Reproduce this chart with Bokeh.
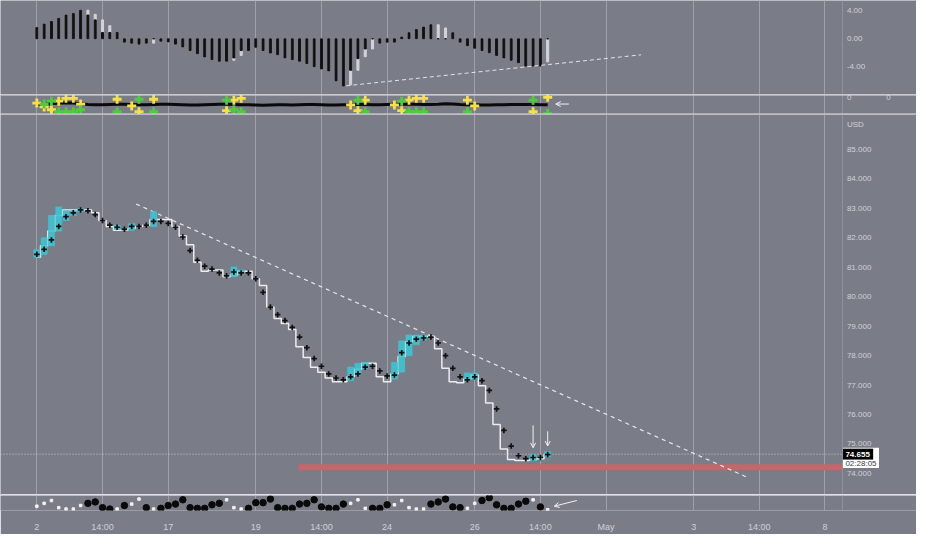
import numpy as np
from bokeh.plotting import figure
from bokeh.layouts import column
from bokeh.models import Range1d, FixedTicker, Span, Arrow, OpenHead
from bokeh.core.properties import value
from bokeh.embed import file_html
from bokeh.resources import INLINE

# ---------------- data ----------------
bar_idx = list(range(71))
tick_idx = [0, 9, 18, 30, 39, 48, 60, 69, 78, 90, 99, 108]
tick_labels = ["2", "14:00", "17", "19", "14:00", "24", "26", "14:00", "May", "3", "14:00", "8"]

macd_ticks = [4, 0, -4]
macd_full = [1.59, 2.10, 2.46, 2.92, 3.38, 3.61, 4.07, 4.07, 3.48, 2.69,
             1.86, 0.90, -0.48, -0.62, -0.76, -0.62, -0.62, -0.34, -0.44, -0.76,
             -1.17, -1.68, -2.14, -2.59, -2.97, -3.20, -3.20, -3.06, -2.37, -1.68,
             -1.21, -1.68, -2.04, -2.28, -2.73, -2.97, -3.20, -3.52, -3.97, -4.30,
             -4.58, -6.00, -6.73, -6.55, -4.48, -2.55, -1.45, -0.62, -0.48, -0.48,
             0.25, 0.86, 1.31, 1.68, 2.00, 2.00, 1.54, 0.86, -0.48, -0.99,
             -1.35, -1.68, -2.00, -2.37, -2.73, -3.06, -3.42, -3.89, -3.89, -3.89,
             -3.28]
macd_dark = [1.59, 2.10, 2.46, 2.92, 3.38, 3.61, 4.07, 3.38, 2.69, 0.90,
             0.90, 0.90, -0.48, -0.62, -0.76, -0.62, 0.0, -0.34, -0.44, -0.76,
             -1.17, -1.68, -2.14, -2.59, -2.97, -3.20, -3.20, -2.73, -1.68, -1.68,
             -1.21, -1.68, -2.04, -2.28, -2.73, -2.97, -3.20, -3.52, -3.97, -4.30,
             -4.58, -6.00, -6.73, -4.48, -2.83, -1.45, 0.0, -0.62, -0.48, -0.48,
             0.25, 0.86, 1.31, 1.68, 2.00, 0.0, 0.0, 0.86, -0.48, -0.99,
             -1.35, -1.68, -2.00, -2.37, -2.73, -3.06, -3.42, -3.89, -3.89, -3.89,
             0.0]
macd_trend_x = [42.4, 82.8]
macd_trend_y = [-6.69, -2.28]

sig_line = [0.1, 0.1, 0.2, 0.3, 0.35, 0.3, 0.2, 0.05, 0.0, 0.0,
            0.05, 0.1, 0.1, 0.05, 0.0, 0.0, 0.05, 0.1, 0.1, 0.05,
            0.0, -0.05, -0.05, 0.0, 0.05, 0.1, 0.1, 0.05, 0.0, 0.0,
            -0.05, -0.1, -0.05, 0.0, 0.0, -0.05, 0.0, 0.05, 0.05, 0.0,
            -0.05, -0.05, 0.0, 0.0, 0.05, 0.05, 0.0, 0.0, 0.05, 0.1,
            0.1, 0.1, 0.1, 0.05, 0.05, 0.1, 0.2, 0.15, 0.05, 0.0,
            0.0, -0.05, -0.05, 0.0, 0.0, 0.05, 0.05, 0.05, 0.05, 0.0,
            0.0]
sig_ticks = [1.3]
sig_tick_labels = ["0"]
yellow_x = [0, 1, 2, 3, 4, 5, 6, 11, 13, 14, 16, 26, 27, 28, 43, 44, 45, 49, 50, 51, 52, 53, 59, 60, 68, 70]
yellow_y = [0.3, -0.37, -0.87, 0.63, 1.13, 1.13, 0.13, 0.97, -0.2, -1.2, 0.97, -1.03, 0.8, 1.13,
            -0.03, -1.03, 0.8, -0.03, -1.03, 0.8, 1.13, 1.13, 0.8, -0.2, -1.2, 1.3]
green_x = [1, 2, 3, 4, 5, 6, 11, 14, 16, 26, 27, 28, 44, 45, 50, 51, 52, 53, 59, 68, 70]
green_y = [0.13, 0.63, -1.2, -1.2, -1.2, -0.87, -1.2, 0.97, -1.2, 0.8, -0.87, -1.2, 0.8, -1.2,
           0.63, -1.2, -1.2, -1.2, -1.2, 0.8, -1.53]

price_ticks = [85, 84, 83, 82, 81, 80, 79, 78, 77, 76, 75, 74]
usd_tick = 85.86
plus_val = [81.44, 81.61, 81.93, 82.39, 82.72, 82.85, 82.95, 82.92, 82.79, 82.59,
            82.43, 82.36, 82.29, 82.39, 82.39, 82.43, 82.56, 82.56, 82.49, 82.36,
            82.03, 81.57, 81.24, 81.04, 80.94, 80.81, 80.71, 80.84, 80.81, 80.81,
            80.61, 80.15, 79.65, 79.39, 79.19, 78.96, 78.63, 78.27, 77.90, 77.64,
            77.38, 77.24, 77.18, 77.28, 77.38, 77.61, 77.64, 77.48, 77.31, 77.34,
            78.10, 78.43, 78.56, 78.60, 78.63, 78.43, 78.00, 77.57, 77.28, 77.18,
            77.28, 77.15, 76.82, 76.19, 75.46, 74.93, 74.60, 74.50, 74.54, 74.54,
            74.64]
step_val = [81.34, 81.73, 82.23, 82.76, 82.95, 82.95, 82.95, 82.95, 82.85, 82.59,
            82.39, 82.26, 82.26, 82.33, 82.39, 82.43, 82.62, 82.62, 82.62, 82.39,
            82.06, 81.77, 81.17, 80.87, 80.91, 80.91, 80.68, 80.74, 80.87, 80.87,
            80.61, 80.38, 79.65, 79.26, 79.09, 78.89, 78.30, 77.94, 77.61, 77.44,
            77.24, 77.11, 77.11, 77.28, 77.54, 77.74, 77.74, 77.28, 77.11, 77.38,
            77.97, 78.47, 78.66, 78.66, 78.66, 78.23, 77.57, 77.11, 77.08, 77.21,
            77.34, 76.98, 76.39, 75.66, 74.83, 74.47, 74.44, 74.44, 74.47, 74.50,
            74.64]
box_idx = [0, 1, 2, 3, 4, 5, 6, 11, 13, 16, 27, 28, 43, 44, 45, 49, 50, 51, 52, 53, 59, 60, 68, 70]
box_top = [81.60, 82.00, 82.76, 83.05, 82.92, 82.92, 82.99, 82.43, 82.49, 82.89, 81.01, 80.91,
           77.61, 77.74, 77.77, 77.77, 78.50, 78.70, 78.70, 78.70, 77.41, 77.41, 74.64, 74.74]
box_bot = [81.34, 81.44, 81.73, 82.23, 82.59, 82.76, 82.89, 82.29, 82.26, 82.39, 80.68, 80.78,
           77.15, 77.34, 77.57, 77.21, 77.44, 78.00, 78.37, 78.53, 77.15, 77.21, 74.44, 74.57]
price_trend_x = [13.6, 97.6]
price_trend_y = [83.15, 73.84]
support_from = 35.9
support_lo = 74.11
support_hi = 74.31
last_price = 74.655
countdown = "02:28:05"
arrow1 = (68, 75.63, 74.87)
arrow2 = (70, 75.43, 74.93)

osc_val = [5, 9, 13, 3, 1, 1, 6, 9, 11, 3,
           1, 1, 6, 8, 15, 3, 1, 2, 6, 8,
           14, 3, 2, 2, 7, 9, 14, 3, 1, 2,
           10, 10, 15, 3, 2, 2, 8, 9, 14, 4,
           2, 2, 8, 9, 14, 2, 2, 2, 7, 7,
           13, 3, 1, 1, 8, 11, 15, 4, 3, 2,
           9, 13, 17, 7, 2, 2, 8, 12, 14, 4,
           0]
osc_dark = [0, 0, 0, 0, 0, 0, 0, 1, 1, 1,
            1, 0, 1, 0, 0, 1, 0, 1, 1, 1,
            1, 1, 1, 1, 1, 1, 0, 0, 0, 1,
            1, 1, 1, 1, 1, 1, 1, 1, 1, 1,
            1, 1, 1, 0, 0, 0, 1, 1, 1, 0,
            0, 0, 0, 0, 1, 1, 1, 1, 1, 0,
            0, 1, 1, 1, 1, 1, 1, 1, 0, 1,
            0]

# ---------------- style / scale ----------------
BG = "#7a7d88"
GRID = "#9ea1aa"
SEP = "#dfe0e4"
TXT = "#cfd1d7"
LIGHT = "#d2d3d8"
CYAN = "#3fc3d0"
FONT = "Liberation Sans"
W = 916
X0, X1 = -4.98, 120.54      # shared bar-index range (whole width)
AX = 110.4                  # price-scale edge (bar-index units)
LAB_X = 111.0               # where the scale labels start
xr = Range1d(X0, X1)


def make_fig(h, yr, bottom=0, xaxis=False):
    p = figure(width=W, height=h, x_range=xr, y_range=yr, output_backend="svg",
               toolbar_location=None, min_border_left=0, min_border_right=0,
               min_border_top=0, min_border_bottom=bottom,
               background_fill_color=BG, border_fill_color=BG, outline_line_color=None,
               x_axis_location="below" if xaxis else None, y_axis_location=None)
    p.xgrid.ticker = FixedTicker(ticks=tick_idx)
    p.xgrid.grid_line_color = GRID
    p.ygrid.grid_line_color = None
    p.add_layout(Span(location=AX, dimension="height", line_color="#8f929c", line_width=1))
    return p


def scale_text(p, ys, texts, x=LAB_X, size="8px", color=TXT):
    p.text(x=[x] * len(ys), y=ys, text=texts, text_font=value(FONT), text_font_size=size,
           text_color=color, text_baseline="middle", text_align="left")


# ---- top pane (histogram) ----
p1 = make_fig(94, Range1d(-7.93, 5.45))
scale_text(p1, macd_ticks, [f"{v:.2f}" for v in macd_ticks])
p1.vbar(x=bar_idx, top=macd_full, bottom=0, width=0.28, color=LIGHT)
p1.vbar(x=bar_idx, top=macd_dark, bottom=0, width=0.28, color="#111111")
p1.line(macd_trend_x, macd_trend_y, line_dash="4 3", line_color="#e4e5e9", line_width=1)

# ---- pane 2 (crosses) ----
p2 = make_fig(20, Range1d(-1.7, 1.8))
scale_text(p2, sig_ticks, sig_tick_labels)
scale_text(p2, sig_ticks, sig_tick_labels, x=116.4)
p2.add_layout(Span(location=1.74, dimension="width", line_color=SEP, line_width=1.2))
p2.add_layout(Span(location=-1.64, dimension="width", line_color=SEP, line_width=1.2))
p2.line(bar_idx, sig_line, line_color="#0a0a0a", line_width=3)
p2.scatter(yellow_x, yellow_y, marker="cross", size=9, line_width=2.8, line_color="#f5e04a")
p2.scatter(green_x, green_y, marker="cross", size=9, line_width=2.8, line_color="#4ccd3c")
p2.add_layout(Arrow(end=OpenHead(size=5, line_color="#f2f2f2", line_width=1),
                    x_start=72.9, y_start=0.13, x_end=71.1, y_end=0.13,
                    line_color="#f2f2f2", line_width=1))

# ---- price pane ----
p3 = make_fig(381, Range1d(73.25, 86.19))
scale_text(p3, price_ticks, [f"{v:.3f}" for v in price_ticks])
scale_text(p3, [usd_tick], ["USD"])
p3.add_layout(Span(location=73.28, dimension="width", line_color=SEP, line_width=1.2))
p3.quad(left=support_from, right=AX, bottom=support_lo, top=support_hi,
        fill_color="#c9646c", line_color=None)
p3.segment(x0=X0, x1=AX, y0=last_price, y1=last_price, line_color="#e0e0e4",
           line_dash="1 2", line_width=1, line_alpha=0.8)
p3.line(price_trend_x, price_trend_y, line_dash="4 4", line_color="#e8e8ec", line_width=1.2)
p3.step(bar_idx, step_val, mode="center", line_color="#ececf0", line_width=1.5)
p3.vbar(x=box_idx, top=box_top, bottom=box_bot, width=0.82, fill_color=CYAN,
        line_color=CYAN, fill_alpha=0.9, line_alpha=0.7)
p3.scatter(bar_idx, plus_val, marker="cross", size=5.5, line_width=1.7, line_color="#111111")
for ax, ys, ye in [arrow1, arrow2]:
    p3.add_layout(Arrow(end=OpenHead(size=5, line_color="#f2f2f2", line_width=1),
                        x_start=ax, y_start=ys, x_end=ax, y_end=ye,
                        line_color="#f2f2f2", line_width=1))
# last-price tag on the scale
p3.quad(left=AX, right=115.4, bottom=74.18, top=74.87, fill_color="white", line_color=None)
p3.quad(left=AX + 0.05, right=114.6, bottom=74.47, top=74.84, fill_color="black", line_color=None)
p3.text(x=[110.8], y=[last_price], text=[f"{last_price:.3f}"], text_font=value(FONT),
        text_font_size="8px", text_font_style="bold", text_color="white",
        text_baseline="middle", text_align="left")
p3.text(x=[110.8], y=[74.32], text=[countdown], text_font=value(FONT),
        text_font_size="8px", text_color="#3a3a3a", text_baseline="middle", text_align="left")

# ---- bottom pane (dots) ----
p4 = make_fig(39, Range1d(-1, 20), bottom=19, xaxis=True)
xa = p4.xaxis[0]
xa.ticker = FixedTicker(ticks=tick_idx)
xa.major_label_overrides = dict(zip(tick_idx, tick_labels))
xa.axis_line_color = None
xa.major_tick_line_color = None
xa.minor_tick_line_color = None
xa.major_label_text_color = TXT
xa.major_label_text_font = FONT
xa.major_label_text_font_size = "9px"
xa.major_label_standoff = 5

dark_x = [i for i in bar_idx if osc_dark[i]]
dark_v = [osc_val[i] for i in bar_idx if osc_dark[i]]
lite_x = [i for i in bar_idx if not osc_dark[i]]
lite_v = [osc_val[i] for i in bar_idx if not osc_dark[i]]
p4.scatter(dark_x, dark_v, size=6.5, color="#0a0a0a")
p4.scatter(lite_x, lite_v, marker="square", size=2.5, color="#f2f2f2")
p4.add_layout(Arrow(end=OpenHead(size=5, line_color="#f2f2f2", line_width=1),
                    x_start=74.0, y_start=13, x_end=70.9, y_end=5,
                    line_color="#f2f2f2", line_width=1))

layout = column(p1, p2, p3, p4, spacing=0)
open("out.html", "w").write(file_html(layout, INLINE))
